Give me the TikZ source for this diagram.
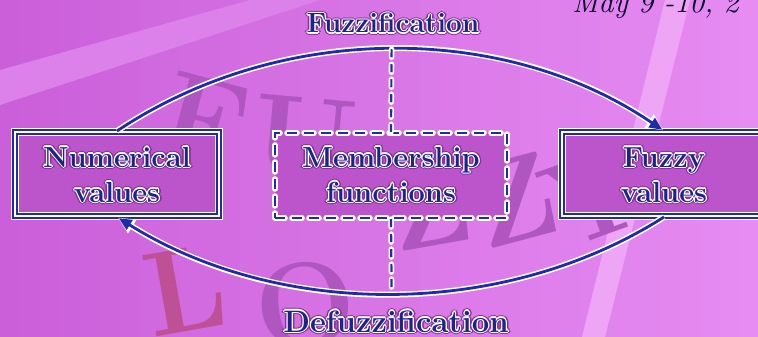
\documentclass[tikz,border=0pt]{standalone}
\usepackage{graphicx}
\usetikzlibrary{arrows.meta}
\definecolor{navy}{RGB}{30,45,165}
\definecolor{navytext}{RGB}{28,36,140}
\definecolor{bgA}{RGB}{203,95,218}
\definecolor{bgB}{RGB}{230,140,242}
\definecolor{boxfill}{RGB}{188,84,204}
\definecolor{beam}{RGB}{220,128,234}
\definecolor{beamR}{RGB}{238,165,246}
\definecolor{halo}{RGB}{135,50,150}
\definecolor{wmcol}{RGB}{175,86,193}
\definecolor{wmred}{RGB}{190,80,150}
\newcommand{\fsTop}{\fontsize{28}{34}\bfseries\selectfont}
\newcommand{\fsBot}{\fontsize{31}{38}\bfseries\selectfont}
\newcommand{\fsBox}{\fontsize{29}{36}\bfseries\selectfont}
\newcommand{\glowtext}[4]{%
  \foreach \ang in {0,45,...,315}{\node[gshadow,font=#3,xshift={2.8*cos(\ang)*1pt},yshift={2.8*sin(\ang)*1pt}] at (#2) {#4};}%
  \foreach \ang in {0,45,...,315}{\node[gwhite,font=#3,xshift={1.2*cos(\ang)*1pt},yshift={1.2*sin(\ang)*1pt}] at (#2) {#4};}%
  \node[gblue,font=#3] (#1) at (#2) {#4};%
}
\tikzset{
  gwhite/.style={anchor=base, inner sep=0pt, text=white},
  gblue/.style={anchor=base, inner sep=0pt, text=navytext},
  gshadow/.style={anchor=base, inner sep=0pt, text=halo},
  wm/.style={inner sep=0pt, text=wmcol, font=\fontsize{120}{120}\bfseries\selectfont},
  frame/.style={draw=navy, line width=2pt, double=white, double distance=1.8pt,
    preaction={draw=white, line width=7.5pt},
    minimum width=204pt, minimum height=84pt, inner sep=0pt},
  memframe/.style={draw=navy, line width=2.2pt, dash pattern=on 10pt off 7pt,
    preaction={draw=white, line width=5.5pt, dash pattern=on 10pt off 7pt, line cap=round},
    minimum width=232pt, minimum height=85pt, inner sep=0pt},
  arcline/.style={draw=navy, line width=2.8pt, shorten >=2pt,
    -{Triangle[length=13pt,width=11pt]},
    preaction={draw=white, line width=6pt, shorten >=1pt, -{Triangle[length=17pt,width=15pt]}}},
  dline/.style={draw=navy, line width=2.2pt, dash pattern=on 8pt off 7pt,
    preaction={draw=white, line width=5.5pt, dash pattern=on 8pt off 7pt, line cap=round}}
}
\begin{document}
\begin{tikzpicture}[x=1pt,y=-1pt]
\useasboundingbox (0,0) rectangle (758,337);
% background: stepped gradient
\foreach \i in {0,...,37}{
  \pgfmathsetmacro{\mix}{100-\i*100/37}
  \fill[bgA!\mix!bgB] (\i*20,0) rectangle (\i*20+21,337);
}
\fill[beam] (0,70) -- (250,0) -- (320,0) -- (0,105) -- cycle;
\fill[beamR] (665,0) -- (690,0) -- (605,337) -- (582,337) -- cycle;
% faint watermark letters
\node[wm, rotate=-15] (wF) at (205,120) {F};
\node[wm, rotate=-5] (wU) at (305,140) {U};
\node[wm, rotate=10] (wZ1) at (430,205) {Z};
\node[wm, rotate=15] (wZ2) at (515,200) {Z};
\node[wm, rotate=20] (wY) at (595,195) {Y};
\node[wm, text=wmred, rotate=10] (wL) at (185,290) {L};
\node[wm, rotate=5] (wO) at (305,305) {O};
% date text
\node[anchor=base west, inner sep=0pt, text=black!85!blue, font=\fontsize{30}{30}\selectfont\itshape] (date) at (572,13) {May 9 -10, 2};
% boxes
\fill[boxfill] (15,132) rectangle (219,216);
\fill[boxfill] (562,132) rectangle (766,216);
\fill[boxfill] (275,133) rectangle (507,218);
\node[frame] (num) at (117,174) {};
\node[frame] (fuz) at (664,174) {};
\node[memframe] (mem) at (391,175.5) {};
% arcs
\draw[arcline] (num.north) .. controls (280,22) and (504,22) .. (fuz.north) coordinate[pos=0.5] (ftop);
\draw[arcline] (fuz.south) .. controls (504,319) and (280,319) .. (num.south) coordinate[pos=0.5] (fbot);
% dashed links
\draw[dline] (ftop) -- (mem.north);
\draw[dline] (mem.south) -- (fbot);
% texts
\glowtext{tFuz}{393,33}{\fsTop}{Fuzzification}
\glowtext{tDef}{396,332}{\fsBot}{Defuzzification}
\glowtext{tNumA}{117,167}{\fsBox}{Numerical}
\glowtext{tNumB}{117,202}{\fsBox}{values}
\glowtext{tMemA}{391,167}{\fsBox}{Membership}
\glowtext{tMemB}{391,202}{\fsBox}{functions}
\glowtext{tFzA}{664,167}{\fsBox}{Fuzzy}
\glowtext{tFzB}{664,202}{\fsBox}{values}
\end{tikzpicture}
\end{document}
